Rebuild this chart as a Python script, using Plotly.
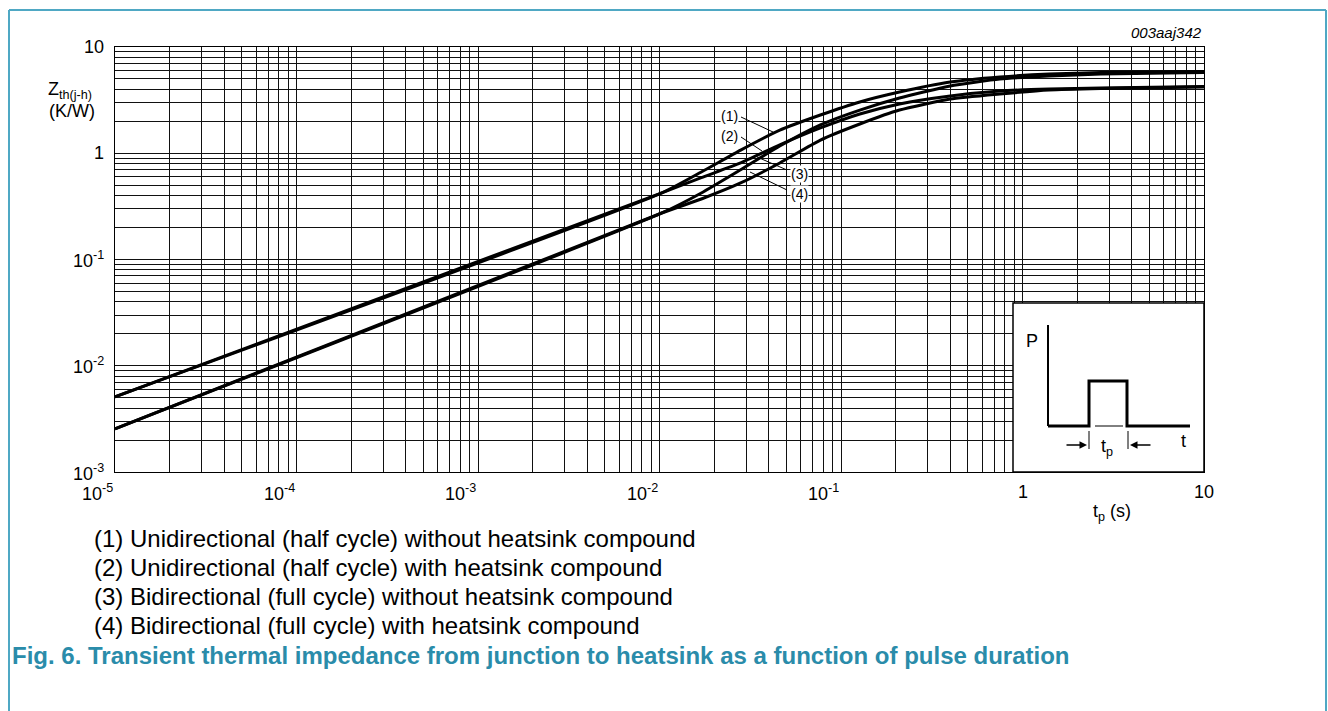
import math
import plotly.graph_objects as go

# ---------------- data ----------------
tp = [1e-5, 0.0103, 0.017, 0.028, 0.046, 0.077, 0.127, 0.21, 0.40, 0.75, 1.4, 2.7, 10]
zth_1 = [0.0051, 0.423, 0.666, 1.07, 1.65, 2.29, 3.04, 3.77, 4.68, 5.22, 5.57, 5.75, 5.88]
zth_2 = [0.0051, 0.423, 0.59, 0.81, 1.2, 1.73, 2.34, 2.91, 3.46, 3.85, 4.02, 4.11, 4.25]
zth_3 = [0.00255, 0.274, 0.423, 0.70, 1.17, 1.85, 2.55, 3.31, 4.30, 5.0, 5.33, 5.57, 5.75]
zth_4 = [0.00255, 0.274, 0.371, 0.525, 0.81, 1.33, 1.885, 2.55, 3.24, 3.61, 3.94, 4.07, 4.20]

curve_names = ["(1)", "(2)", "(3)", "(4)"]
legend_lines = [
    "(1) Unidirectional (half cycle) without heatsink compound",
    "(2) Unidirectional (half cycle) with heatsink compound",
    "(3) Bidirectional (full cycle) without heatsink compound",
    "(4) Bidirectional (full cycle) with heatsink compound",
]
x_tick_vals = [1e-5, 1e-4, 1e-3, 1e-2, 1e-1, 1, 10]
x_tick_text = ["10<sup>-5</sup>", "10<sup>-4</sup>", "10<sup>-3</sup>", "10<sup>-2</sup>",
               "10<sup>-1</sup>", "1", "10"]
y_tick_vals = [1e-3, 1e-2, 1e-1, 1, 10]
y_tick_text = ["10<sup>-3</sup>", "10<sup>-2</sup>", "10<sup>-1</sup>", "1", "10"]
caption = "Fig. 6. Transient thermal impedance from junction to heatsink as a function of pulse duration"
code_id = "003aaj342"

# ---------------- layout helpers ----------------
W, H = 1328, 711
L, R, T, B = 115, 1204, 47, 472
FONT = "Liberation Sans, Arial, Helvetica, sans-serif"
TEAL = "#4FA8C4"
CAP = "#2A8CAA"


def px(x):
    return (x - L) / (R - L)


def py(y):
    return (B - y) / (B - T)


ann = []
shapes = []


def text(x, y, t, size, xa="center", ya="middle", color="black", **kw):
    d = dict(x=px(x), y=py(y), xref="paper", yref="paper", text=t, showarrow=False,
             xanchor=xa, yanchor=ya, font=dict(family=FONT, size=size, color=color))
    d.update(kw)
    ann.append(d)


def seg(x0, y0, x1, y1, color="black", width=1):
    shapes.append(dict(type="line", xref="paper", yref="paper", x0=px(x0), y0=py(y0),
                       x1=px(x1), y1=py(y1), line=dict(color=color, width=width), layer="above"))


fig = go.Figure()
for name, z in zip(curve_names, [zth_1, zth_2, zth_3, zth_4]):
    fig.add_trace(go.Scatter(x=tp, y=z, mode="lines", name=name,
                             line=dict(color="black", width=3, shape="spline", smoothing=0.5),
                             hoverinfo="skip", showlegend=False))

# axis tick labels
for v, t in zip(x_tick_vals, x_tick_text):
    sup = "<sup>" in t
    ann.append(dict(x=math.log10(v), xref="x", y=py(492), yref="paper", text=t,
                    showarrow=False, xanchor="right" if sup else "center", yanchor="middle",
                    font=dict(family=FONT, size=18, color="black")))
for v, t in zip(y_tick_vals, y_tick_text):
    ann.append(dict(x=px(106), xref="paper", y=math.log10(v), yref="y", text=t,
                    showarrow=False, xanchor="right", yanchor="middle",
                    font=dict(family=FONT, size=18, color="black")))

# axis titles
text(70, 90, "Z<sub>th(j-h)</sub>", 18)
text(72, 111, "(K/W)", 18)
text(1112, 512, "t<sub>p</sub> (s)", 18)
text(1204, 33, "<i>" + code_id + "</i>", 15, xa="right")

# curve labels and leaders
label_pos = [(729, 116), (729, 136), (799, 174), (799, 194)]
leaders = [((741, 117), (773, 132)), ((741, 137), (762, 151)),
           ((787, 170), (757, 157)), ((787, 190), (750, 172))]
for name, (lx, ly), ((x0, y0), (x1, y1)) in zip(curve_names, label_pos, leaders):
    seg(x0, y0, x1, y1)
    text(lx, ly, name, 14, bgcolor="white", borderpad=0)

# legend text
for i, t in enumerate(legend_lines):
    text(92, 538 + 29 * i, t, 24, xa="left")

text(10, 655, "<b>" + caption + "</b>", 24, xa="left", color=CAP)

# outer frame
seg(9, 10, 1326, 10, TEAL, 2)
seg(9, 10, 9, 711, TEAL, 2)
seg(1326, 10, 1326, 711, TEAL, 2)

# inset pulse diagram
shapes.append(dict(type="rect", xref="paper", yref="paper", x0=px(1013), y0=py(303),
                   x1=px(1204), y1=py(472), fillcolor="white",
                   line=dict(color="black", width=1.5), layer="above"))
seg(1048, 325, 1048, 426, width=2)
pulse = [(1048, 426), (1089, 426), (1089, 381), (1127, 381), (1127, 426), (1190, 426)]
path = "M " + " L ".join(f"{px(a):.5f},{py(b):.5f}" for a, b in pulse)
shapes.append(dict(type="path", xref="paper", yref="paper", path=path,
                   line=dict(color="black", width=3), layer="above"))
seg(1095, 426, 1123, 426)
seg(1089, 431, 1089, 449)
seg(1128, 431, 1128, 449)
ann.append(dict(x=px(1087), y=py(445), xref="paper", yref="paper", ax=-22, ay=0, text="",
                showarrow=True, arrowhead=2, arrowsize=1, arrowwidth=1.5, arrowcolor="black"))
ann.append(dict(x=px(1130), y=py(445), xref="paper", yref="paper", ax=22, ay=0, text="",
                showarrow=True, arrowhead=2, arrowsize=1, arrowwidth=1.5, arrowcolor="black"))
text(1107, 447, "t<sub>p</sub>", 18)
text(1183, 441, "t", 18)
text(1032, 341, "P", 18)

axis_common = dict(type="log", dtick="D1", showticklabels=False, ticks="",
                   showgrid=True, gridcolor="#111111", gridwidth=1,
                   showline=True, linecolor="black", linewidth=1, mirror=True)
fig.update_layout(
    width=W, height=H,
    margin=dict(l=L, r=W - R, t=T, b=H - B),
    paper_bgcolor="white", plot_bgcolor="white",
    xaxis=dict(range=[-5, 1], **axis_common),
    yaxis=dict(range=[-3, 1], **axis_common),
    annotations=ann, shapes=shapes,
    showlegend=False,
)
fig.write_html("out.html", config={"displayModeBar": False, "staticPlot": True})

# remove default page margin so the figure sits at the window's top-left corner
with open("out.html", encoding="utf-8") as f:
    html = f.read()
html = html.replace("<head>", "<head><style>html,body{margin:0;padding:0;overflow:hidden;}</style>", 1)
with open("out.html", "w", encoding="utf-8") as f:
    f.write(html)
